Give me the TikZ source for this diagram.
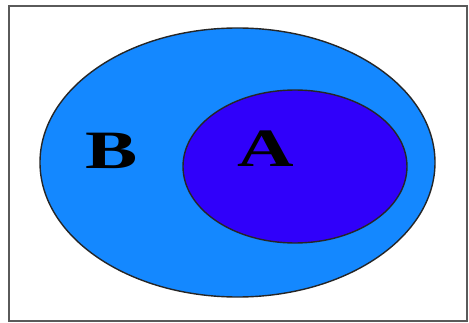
\documentclass[tikz,border=0pt]{standalone}
\usepackage{fontspec}
\setmainfont{Liberation Serif}
\definecolor{setB}{RGB}{20,136,255}
\definecolor{setA}{RGB}{48,0,250}
\definecolor{frame}{RGB}{90,90,90}
\begin{document}
\begin{tikzpicture}[x=1pt,y=1pt,
  setshape/.style={draw=black!85, line width=1.4pt},
  setlabel/.style={font=\fontsize{54}{54}\selectfont\bfseries, text=black, inner sep=0pt, xscale=1.45}]
\useasboundingbox (0,0) rectangle (469,322);
\fill[white] (0,0) rectangle (469,322);
\draw[frame, line width=1.5pt] (9,1) rectangle (467,316);
\path[setshape, fill=setB] (237.5,159.5) ellipse [x radius=197.5, y radius=134.5];
\path[setshape, fill=setA] (295,155.5) ellipse [x radius=112, y radius=76.5];
\node[setlabel] (B) at (112,171) {B};
\node[setlabel] (A) at (266,173) {A};
\end{tikzpicture}
\end{document}
